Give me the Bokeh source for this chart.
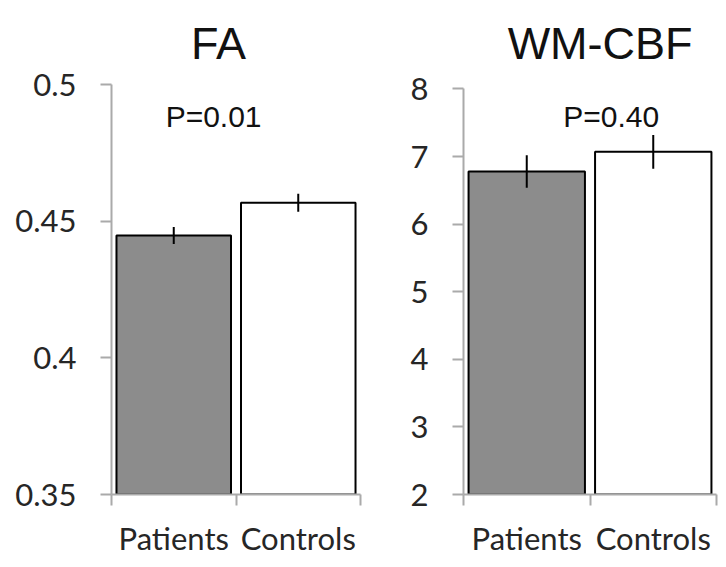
from bokeh.plotting import figure
from bokeh.layouts import row
from bokeh.models import FixedTicker, Range1d, Label, ColumnDataSource
from bokeh.embed import file_html
from bokeh.resources import INLINE

# ---- data ----
groups = ["Patients", "Controls"]
fa_mean = [0.4449, 0.4569]
fa_err = [0.0031, 0.0033]
cbf_mean = [6.78, 7.07]
cbf_err = [0.24, 0.25]
fa_ticks = [0.35, 0.4, 0.45, 0.5]
fa_tick_labels = ["0.35", "0.4", "0.45", "0.5"]
cbf_ticks = [2, 3, 4, 5, 6, 7, 8]
cbf_tick_labels = ["2", "3", "4", "5", "6", "7", "8"]
p_texts = ["P=0.01", "P=0.40"]
titles = ["FA", "WM-CBF"]
bar_colors = ["#8c8c8c", "#ffffff"]

AXIS_GRAY = "#aaaaaa"
LABEL_COLOR = "#262626"

HEIGHT = 559
BORDER_BOTTOM = 62
FRAME_BOTTOM = HEIGHT - BORDER_BOTTOM   # pixel row of the x axis


def make_panel(title, means, errs, ticks, tick_labels, ymin, ymax, top_px, width,
               b_left, b_right, title_x, ptext, p_x):
    # the frame runs from the canvas top; the axis itself is bounded to [ymin, ymax]
    scale = (ymax - ymin) / (FRAME_BOTTOM - top_px)
    y_end = ymax + scale * top_px

    def ypix(py):
        return ymin + (FRAME_BOTTOM - py) * scale

    xs = [i + 0.5 for i in range(len(groups))]
    src = ColumnDataSource(dict(
        x=xs, top=means, lo=[m - e for m, e in zip(means, errs)],
        hi=[m + e for m, e in zip(means, errs)], color=bar_colors))
    p = figure(width=width, height=HEIGHT, output_backend="svg", toolbar_location=None,
               x_range=Range1d(0, len(groups)), y_range=Range1d(ymin, y_end),
               min_border_left=b_left, min_border_right=b_right,
               min_border_top=0, min_border_bottom=BORDER_BOTTOM)
    p.outline_line_color = None
    p.grid.visible = False
    p.background_fill_color = "white"
    p.border_fill_color = "white"

    p.vbar(x="x", top="top", bottom=ymin, width=0.92, source=src, fill_color="color",
           line_color="black", line_width=2)
    p.segment(x0="x", y0="lo", x1="x", y1="hi", source=src, line_color="black", line_width=2)

    # y axis
    ya = p.yaxis[0]
    ya.bounds = (ymin, ymax)
    ya.ticker = FixedTicker(ticks=ticks, minor_ticks=[])
    ya.major_label_overrides = {t: l for t, l in zip(ticks, tick_labels)}
    ya.axis_line_color = AXIS_GRAY
    ya.axis_line_width = 2
    ya.major_tick_line_color = AXIS_GRAY
    ya.major_tick_line_width = 2
    ya.major_tick_out = 11
    ya.major_tick_in = 0
    ya.minor_tick_out = 0
    ya.minor_tick_in = 0
    ya.major_label_standoff = 24
    ya.major_label_text_font = "Lato"
    ya.major_label_text_font_size = "31px"
    ya.major_label_text_color = LABEL_COLOR

    # x axis: category labels at centres, tick marks at boundaries
    xa = p.xaxis[0]
    xa.ticker = FixedTicker(ticks=xs, minor_ticks=list(range(len(groups) + 1)))
    xa.major_label_overrides = {x: g for x, g in zip(xs, groups)}
    xa.axis_line_color = AXIS_GRAY
    xa.axis_line_width = 2
    xa.major_tick_out = 0
    xa.major_tick_in = 0
    xa.major_tick_line_color = None
    xa.minor_tick_out = 11
    xa.minor_tick_in = 0
    xa.minor_tick_line_color = AXIS_GRAY
    xa.minor_tick_line_width = 2
    xa.major_label_standoff = 13
    xa.major_label_text_font = "Lato"
    xa.major_label_text_font_size = "31px"
    xa.major_label_text_color = LABEL_COLOR

    # panel title and p-value, placed in the space above the axis
    p.add_layout(Label(x=title_x, y=ypix(43), text=title, text_align="center",
                       text_baseline="alphabetic", text_font="Liberation Sans",
                       text_font_size="45px", text_color="#111111"))
    p.add_layout(Label(x=p_x, y=ypix(117), text=ptext, text_align="center",
                       text_baseline="alphabetic", text_font="Liberation Sans",
                       text_font_size="30px", text_color="#111111"))
    return p


p1 = make_panel(titles[0], fa_mean, fa_err, fa_ticks, fa_tick_labels, 0.35, 0.5, 85,
                368, 111, 8, 0.86, p_texts[0], 0.82)
p2 = make_panel(titles[1], cbf_mean, cbf_err, cbf_ticks, cbf_tick_labels, 2, 8, 89,
                350, 95, 2, 1.08, p_texts[1], 1.167)

layout = row(p1, p2)
open("out.html", "w").write(file_html(layout, INLINE))
